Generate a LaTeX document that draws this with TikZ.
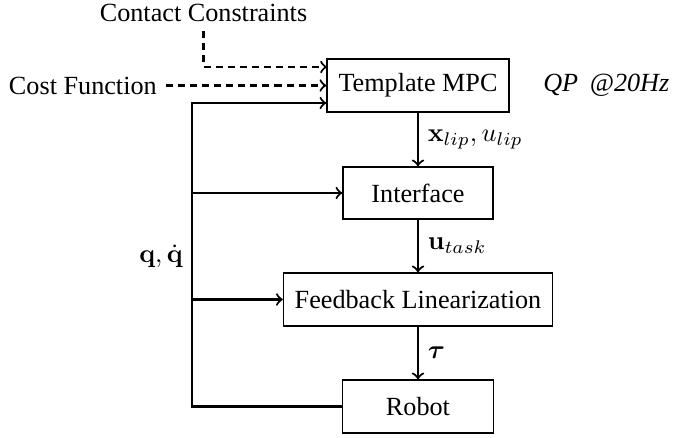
\documentclass[tikz,border=0pt]{standalone}
\usepackage{amsmath}
\usepackage[no-math]{fontspec}
\setmainfont{Liberation Serif}
\tikzset{
  blk/.style={draw, line width=0.5pt, inner sep=0pt, minimum height=53*0.3817pt},
  conn/.style={line width=0.8pt, ->},
  dconn/.style={line width=0.8pt, ->, dash pattern=on 2.7pt off 1.9pt},
}
\begin{document}
\begin{tikzpicture}[x=0.3817pt, y=-0.3817pt]
\useasboundingbox (0,0) rectangle (694,437);
\node[blk, minimum width=182*0.3817pt] (tmpc) at (418,85.5) {Template MPC};
\node[blk, minimum width=150*0.3817pt, minimum height=52*0.3817pt] (intf) at (418,193) {Interface};
\node[blk, minimum width=269*0.3817pt] (fbl) at (418,299.5) {Feedback Linearization};
\node[blk, minimum width=151*0.3817pt] (robot) at (418,406.5) {Robot};
\node[anchor=west] (qp) at (534,85.5) {\textit{QP\hspace{0.45em}@20Hz}};
\node[anchor=east] (cost) at (166,85.5) {Cost Function};
\node (contact) at (203.5,13) {Contact Constraints};
\coordinate (fbk) at (192,103);
\coordinate (cin) at (327,67);

\draw[dconn] (contact.south) |- (cin);
\draw[dconn] (cost.east) -- (cost.east -| tmpc.west);

\draw[conn] (tmpc.south) -- node[right] {$\mathbf{x}_{lip}, u_{lip}$} (intf.north);
\draw[conn] (intf.south) -- node[right] {$\mathbf{u}_{task}$} (fbl.north);
\draw[conn] (fbl.south) -- node[right] {$\boldsymbol{\tau}$} (robot.north);

\draw[conn] (robot.west) -| (fbk) -- (fbk -| tmpc.west);
\draw[conn] (fbk |- intf.west) -- (intf.west);
\draw[conn] (fbk |- fbl.west) -- (fbl.west);
\node[anchor=east] (qlab) at (192,256) {$\mathbf{q}, \dot{\mathbf{q}}$};
\end{tikzpicture}
\end{document}
